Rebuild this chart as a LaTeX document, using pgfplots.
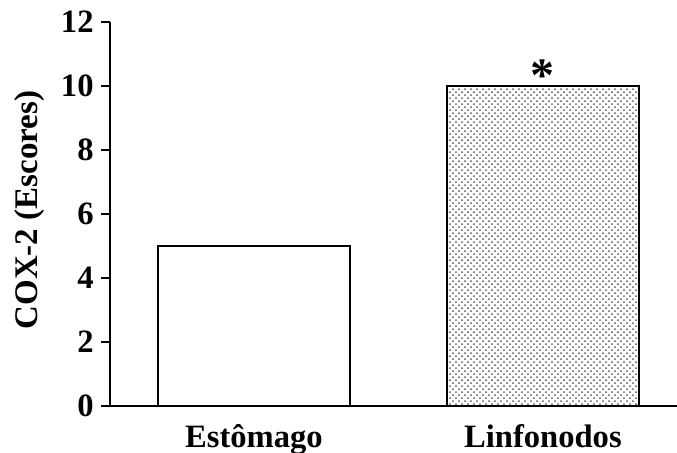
\documentclass[border=0pt]{standalone}
\usepackage{fontspec}
\setmainfont{Liberation Serif}
\usepackage{pgfplots}
\pgfplotsset{compat=1.18}
\usetikzlibrary{patterns}

\begin{document}
\begin{tikzpicture}
\path[use as bounding box] (0,0) rectangle (338.5pt,226pt);

\begin{axis}[%
at={(55pt,23pt)},%
anchor=south west,%
width=283.5pt,%
height=192pt,%
scale only axis,%
axis x line*=bottom,%
axis y line*=left,%
axis line style={line width=1.1pt},%
xmin=-0.498, xmax=1.464,%
ymin=0, ymax=12,%
xtick={0,1},%
xticklabels={Estômago,Linfonodos},%
ytick={0,2,4,6,8,10,12},%
major x tick style={draw=none},%
major y tick style={line width=1.1pt, black},%
tick align=outside,%
major tick length=4.5pt,%
/pgf/number format/assume math mode=true,%
ticklabel style={font=\fontsize{16.3}{18}\selectfont\bfseries},%
yticklabel style={inner sep=0pt, xshift=-3.5pt},%
xticklabel style={anchor=base, inner sep=0pt, yshift=-16pt},%
ylabel={COX-2 (Escores)},%
ylabel style={font=\fontsize{16.5}{18}\selectfont\bfseries, at={(axis description cs:-0.141,0.51)}, anchor=center, rotate=0},%
ybar, bar width=96pt, bar shift=0pt,%
]

% Estomago
\addplot [draw=black, line width=0.9pt, fill=white] coordinates {(0,5)};

% Linfonodos
\addplot [draw=black, line width=0.9pt, pattern=crosshatch dots, pattern color=black!65] coordinates {(1,10)};

\node[anchor=base, inner sep=0pt, font=\fontsize{24}{26}\selectfont\bfseries] at (axis cs:1,10) [yshift=-2.5pt] {*};

\end{axis}
\end{tikzpicture}
\end{document}
